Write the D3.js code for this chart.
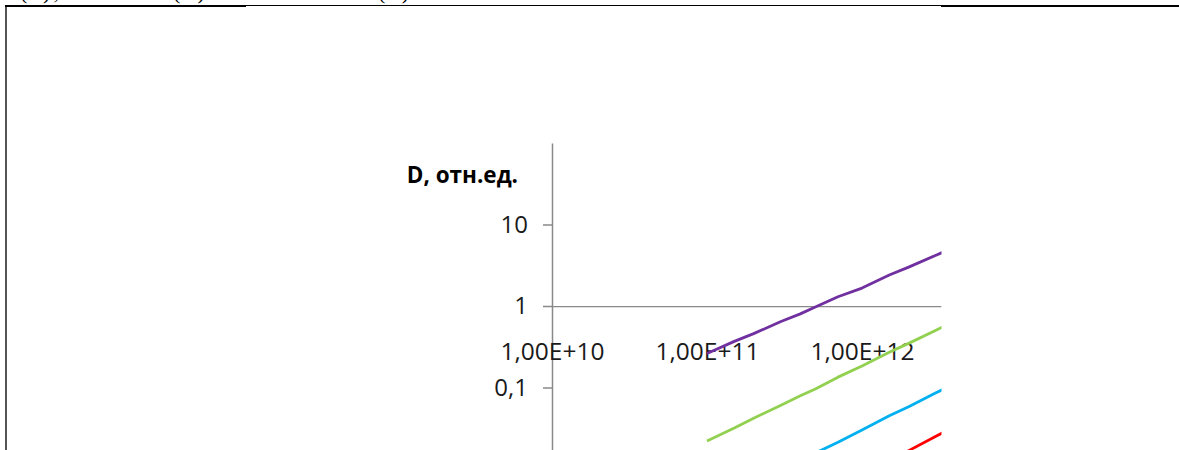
<!DOCTYPE html>
<html>
<head>
<meta charset="utf-8">
<script src="https://cdn.jsdelivr.net/npm/d3@7"></script>
<style>
  html, body { margin: 0; padding: 0; background: #fff; }
  svg { display: block; }
</style>
</head>
<body>
<svg id="chart" width="1179" height="450"></svg>
<script>
// ---- data ----
const xValues = [1e11, 1.5e11, 2e11, 3e11, 4e11, 5e11, 7e11, 1e12, 1.5e12, 2e12, 3e12, 4e12];
const seriesNames = ["s1", "s2", "s3", "s4"];
const seriesColors = ["#7030A0", "#92D050", "#00B0F0", "#FF0000"];
const purpleValues = [0.262, 0.368, 0.458, 0.645, 0.80, 0.97, 1.30, 1.66, 2.40, 3.0, 4.2, 5.3];
const greenValues  = [0.0221, 0.0318, 0.0420, 0.0605, 0.079, 0.096, 0.134, 0.184, 0.270, 0.348, 0.505, 0.66];
const blueValues   = [0.00337, 0.0049, 0.0065, 0.0097, 0.0125, 0.0157, 0.0213, 0.0300, 0.0450, 0.0580, 0.0860, 0.112];
const redValues    = [0.00082, 0.00123, 0.00165, 0.00248, 0.0033, 0.00414, 0.0058, 0.0083, 0.0126, 0.0168, 0.0252, 0.0337];
const xTickValues = [1e10, 1e11, 1e12];
const yTickValues = [0.001, 0.01, 0.1, 1, 10];
const yAxisTitle = "D, отн.ед.";
const headerTexts = ["(а),", "(б)", "(в)"];

const svg = d3.select("#chart");

// ---- page frame (document border) ----
svg.append("line").attr("x1", 6).attr("x2", 6).attr("y1", 5).attr("y2", 450)
  .attr("stroke", "#555").attr("stroke-width", 2);
svg.append("line").attr("x1", 5).attr("x2", 246).attr("y1", 6).attr("y2", 6)
  .attr("stroke", "#000").attr("stroke-width", 2);
svg.append("line").attr("x1", 246).attr("x2", 941).attr("y1", 5.5).attr("y2", 5.5)
  .attr("stroke", "#000").attr("stroke-width", 1);
svg.append("line").attr("x1", 941).attr("x2", 1179).attr("y1", 6).attr("y2", 6)
  .attr("stroke", "#000").attr("stroke-width", 2);

// cut-off header text (only bottoms visible, as in the reference)
const headerX = [20, 173, 378];
svg.selectAll("text.hdr").data(headerTexts).join("text")
  .attr("class", "hdr")
  .attr("x", (d, i) => headerX[i]).attr("y", -1)
  .attr("font-family", "Liberation Serif, serif").attr("font-size", 22)
  .attr("letter-spacing", 3)
  .attr("fill", "#000").text(d => d);

// ---- scales ----
const x = d3.scaleLog().domain([1e10, Math.pow(10, 10 + 389 / 155)]).range([552, 941]);
const y = d3.scaleLog().domain([1e-4, 100]).range([632, 143]);

const clip = svg.append("defs").append("clipPath").attr("id", "plotclip");
clip.append("rect").attr("x", 0).attr("y", 0).attr("width", 941.5).attr("height", 450);

const axisColor = "#898989";
const labelFont = "Open Sans, sans-serif";

// y axis
const fmtY = d => String(d).replace(".", ",");
const yAxis = svg.append("g").attr("transform", `translate(${x(1e10)},0)`)
  .call(d3.axisLeft(y).tickValues(yTickValues).tickFormat(fmtY)
    .tickSizeInner(9).tickSizeOuter(0).tickPadding(15));
yAxis.select(".domain").attr("stroke", axisColor).attr("stroke-width", 1.5);
yAxis.selectAll(".tick line").attr("stroke", axisColor).attr("stroke-width", 1.5);
yAxis.selectAll(".tick text").attr("font-family", labelFont).attr("font-size", 24)
  .attr("fill", "#1a1a1a");

// x axis (crosses at y = 1)
const fmtX = d => "1,00E+" + Math.round(Math.log10(d));
const xAxis = svg.append("g").attr("transform", `translate(0,${y(1)})`)
  .attr("clip-path", "url(#plotclip)")
  .call(d3.axisBottom(x).tickValues(xTickValues).tickFormat(fmtX)
    .tickSizeInner(-8).tickSizeOuter(0).tickPadding(37));
xAxis.select(".domain").attr("stroke", axisColor).attr("stroke-width", 1.5);
xAxis.selectAll(".tick line").attr("stroke", axisColor).attr("stroke-width", 1.5);
xAxis.selectAll(".tick text").attr("font-family", labelFont).attr("font-size", 24.5)
  .attr("fill", "#1a1a1a");

// y axis title
svg.append("text").attr("x", 518).attr("y", 175).attr("dy", "0.35em")
  .attr("text-anchor", "end")
  .attr("font-family", labelFont).attr("font-weight", "bold").attr("font-size", 22.5)
  .attr("fill", "#000").text(yAxisTitle);

// ---- series ----
const allSeries = [purpleValues, greenValues, blueValues, redValues];
const line = d3.line().x(d => x(d[0])).y(d => y(d[1]));
const plot = svg.append("g").attr("clip-path", "url(#plotclip)");
allSeries.forEach((vals, i) => {
  plot.append("path")
    .datum(xValues.map((xv, j) => [xv, vals[j]]))
    .attr("fill", "none")
    .attr("stroke", seriesColors[i])
    .attr("stroke-width", 2.8)
    .attr("stroke-linejoin", "round")
    .attr("d", line);
});
</script>
</body>
</html>
